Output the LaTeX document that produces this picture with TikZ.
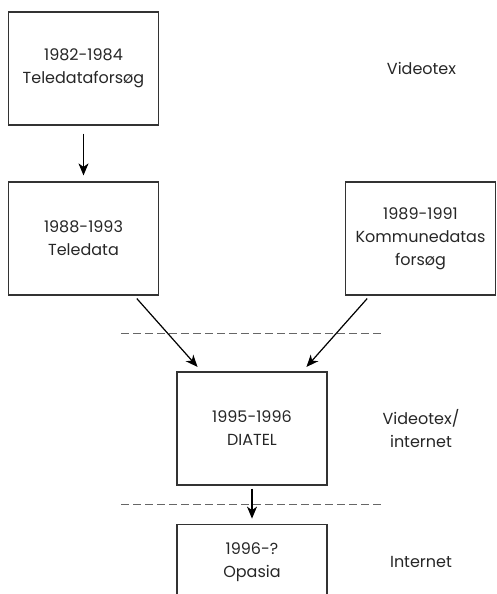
\documentclass[tikz,border=0pt]{standalone}
\usepackage{fontspec}
\setmainfont{Poppins}
\usetikzlibrary{arrows,arrows.meta,positioning,calc}

\begin{document}
\begin{tikzpicture}[x=1pt,y=1pt,->,>={Stealth[length=12pt,width=10pt,inset=3.5pt]},
            shorten >=6pt,shorten <=5pt,node distance=170pt,line width=1.2pt,
            box/.style={draw=black!80,rectangle,minimum width=150pt,minimum height=113pt,
                align=center,text=black!85,font=\fontsize{16}{23}\selectfont},
            era/.style={align=center,text=black!85,font=\fontsize{16}{23}\selectfont},
            sep/.style={-,draw=black!60,line width=1pt,dash pattern=on 8pt off 4pt,
                shorten >=0pt,shorten <=0pt}]
            \useasboundingbox (0,0) rectangle (496,-594);

            % boxes
            \node   [box]   at (83.5,-68.5)                     (1) {1982-1984\\Teledataforsøg};
            \node   [box]   [below of=1]                        (2) {1988-1993\\Teledata};
            \node   [box]   [right of=2,node distance=337pt]    (3) {1989-1991\\Kommunedatas\\forsøg};
            \node   [box]   at ($(2)!0.5!(3)+(0,-190)$)         (4) {1995-1996\\DIATEL};
            \node   [box,minimum height=76pt] [below=38pt of 4] (5) {1996-?\\Opasia};

            % eras
            \node   [era]   [right of=1,node distance=338pt]    (v) {Videotex};
            \node   [era]   [right of=4,node distance=169pt]    (vi) {Videotex/\\internet};
            \node   [era]   [right of=5,node distance=169pt]    (i) {Internet};

            \draw   [sep] (121,-333) -- (383,-333);
            \draw   [sep] (121,-504) -- (383,-504);

            \path   (1) edge [shorten <=8pt] (2);
            \path   (2) edge [shorten <=4pt] (4)
                    (3) edge [shorten <=4pt] (4);
            \path   (4) edge [shorten <=3pt,shorten >=5pt] (5);
\end{tikzpicture}
\end{document}
